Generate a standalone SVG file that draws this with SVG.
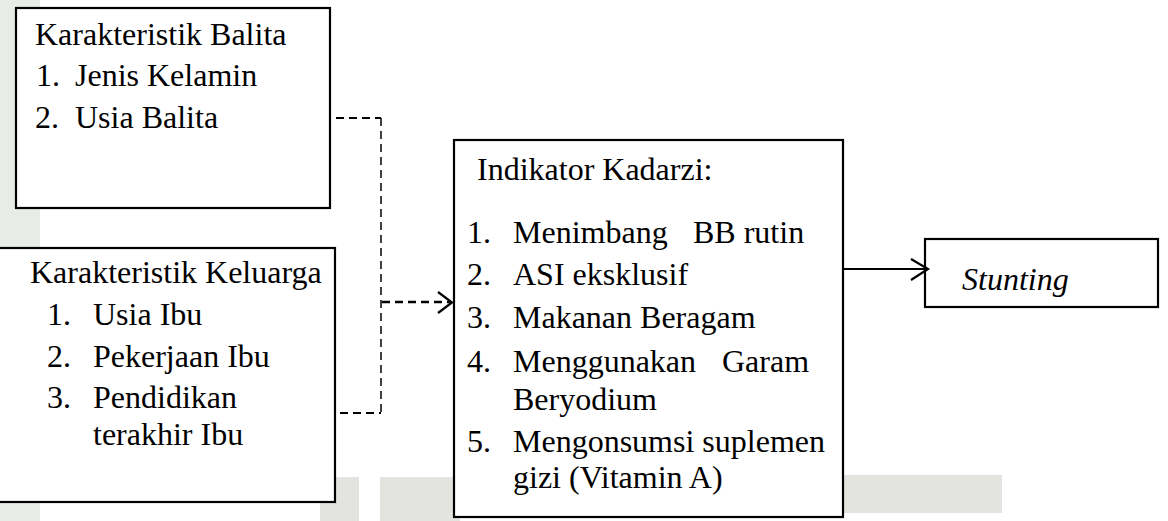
<svg xmlns="http://www.w3.org/2000/svg" width="1168" height="521" viewBox="0 0 1168 521">
<style>
  .box { fill: #ffffff; stroke: #000000; stroke-width: 2.2; }
  .t { font-family: Liberation Serif, Tinos, Times New Roman, Times, Nimbus Roman, Nimbus Roman No9 L, FreeSerif, Noto Serif, DejaVu Serif, serif; font-size: 32px; fill: #000000; }
  .it { font-style: italic; }
  .dash { fill: none; stroke: #000000; stroke-dasharray: 8 5; }
  .solid { fill: none; stroke: #000000; stroke-width: 2.2; }
  .bg { fill: #e3e4e0; }
</style>
<rect x="0" y="0" width="1168" height="521" fill="#ffffff"/>
<g id="background">
  <rect x="0" y="0" width="40" height="521" fill="#e9ebe8"/>
  <rect class="bg" x="320" y="477" width="39" height="44"/>
  <rect class="bg" x="380" y="477" width="80" height="44"/>
  <rect class="bg" x="840" y="475" width="162" height="38"/>
</g>
<g id="node-balita">
  <rect class="box" x="16" y="8" width="314" height="200"/>
  <text class="t" x="35" y="45">Karakteristik Balita</text>
  <text class="t" x="36" y="86">1.</text>
  <text class="t" x="75" y="86">Jenis Kelamin</text>
  <text class="t" x="35" y="128">2.</text>
  <text class="t" x="75" y="128">Usia Balita</text>
</g>
<g id="node-keluarga">
  <rect class="box" x="-3" y="248" width="338" height="254"/>
  <text class="t" x="30" y="283">Karakteristik Keluarga</text>
  <text class="t" x="47" y="325">1.</text>
  <text class="t" x="93" y="325">Usia Ibu</text>
  <text class="t" x="47" y="367">2.</text>
  <text class="t" x="93" y="367">Pekerjaan Ibu</text>
  <text class="t" x="47" y="408">3.</text>
  <text class="t" x="93" y="408">Pendidikan</text>
  <text class="t" x="93" y="445">terakhir Ibu</text>
</g>
<g id="node-kadarzi">
  <rect class="box" x="454" y="140" width="389" height="377"/>
  <text class="t" x="477" y="180">Indikator Kadarzi:</text>
  <text class="t" x="467" y="243">1.</text>
  <text class="t" x="513" y="243">Menimbang</text>
  <text class="t" x="693" y="243">BB rutin</text>
  <text class="t" x="467" y="285">2.</text>
  <text class="t" x="513" y="285">ASI eksklusif</text>
  <text class="t" x="467" y="328">3.</text>
  <text class="t" x="513" y="328">Makanan Beragam</text>
  <text class="t" x="467" y="372">4.</text>
  <text class="t" x="513" y="372">Menggunakan</text>
  <text class="t" x="722" y="372">Garam</text>
  <text class="t" x="513" y="410">Beryodium</text>
  <text class="t" x="467" y="452">5.</text>
  <text class="t" x="513" y="452">Mengonsumsi suplemen</text>
  <text class="t" x="513" y="488">gizi (Vitamin A)</text>
</g>
<g id="node-stunting">
  <rect class="box" x="925" y="239" width="233" height="68"/>
  <text class="t it" x="962" y="290">Stunting</text>
</g>
<g id="connectors">
  <line class="dash" x1="336" y1="118" x2="381" y2="118" stroke-width="2"/>
  <line class="dash" x1="340" y1="413" x2="381" y2="413" stroke-width="2"/>
  <line class="dash" x1="381" y1="118" x2="381" y2="415" stroke-width="1.5" stroke-dasharray="7 5"/>
  <line class="dash" x1="382" y1="302" x2="450" y2="302" stroke-width="2.4"/>
  <polyline class="solid" points="438,292 452,302.5 438,313"/>
  <line class="solid" x1="844" y1="269" x2="928" y2="269"/>
  <polyline class="solid" points="911,259 928,269 911,280"/>
</g>
</svg>
